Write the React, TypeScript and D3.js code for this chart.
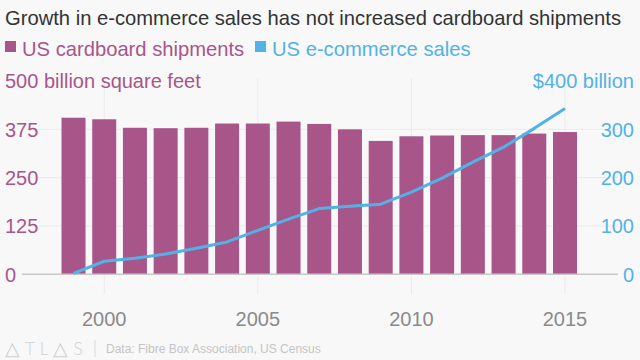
import { useEffect } from 'react'
import { scaleLinear, line } from 'd3'

const width = 640
const height = 360

const years = [1999, 2000, 2001, 2002, 2003, 2004, 2005, 2006, 2007, 2008, 2009, 2010, 2011, 2012, 2013, 2014, 2015]
const cardboard = [405, 401, 379, 378, 379, 390, 390, 395, 389, 375, 345, 357, 359, 360, 360, 364, 368]
const ecommerce = [2, 27, 33, 42, 54, 67, 91, 114, 136, 141, 145, 170, 199, 232, 263, 302, 343]
const leftTicks = [0, 125, 250, 375]
const rightTicks = [0, 100, 200, 300]
const yearTicks = [2000, 2005, 2010, 2015]

const pink = '#a8568a'
const blue = '#52b2e6'
const font = '"Liberation Sans", Arial, sans-serif'

const x = scaleLinear().domain([1999, 2015]).range([73.5, 565])
const yLeft = scaleLinear().domain([0, 500]).range([274.3, 81])
const yRight = scaleLinear().domain([0, 400]).range([274.3, 81])
const barWidth = 24

const salesLine = line<number>()
  .x((_, i) => x(years[i]))
  .y((d) => yRight(d))

function App() {
  useEffect(() => {
    document.body.style.margin = '0'
  }, [])

  return (
    <svg width={width} height={height} style={{ display: 'block', background: '#f8f8f8' }} fontFamily={font}>
      {/* grid */}
      {leftTicks.slice(1).map((t) => (
        <line key={t} x1={22} x2={618} y1={yLeft(t)} y2={yLeft(t)} stroke="#ebebeb" />
      ))}
      {yearTicks.map((t) => (
        <line key={t} x1={x(t)} x2={x(t)} y1={78} y2={294} stroke="#ebebeb" />
      ))}

      {/* bars */}
      {years.map((yr, i) => (
        <rect
          key={yr}
          x={x(yr) - barWidth / 2}
          y={yLeft(cardboard[i])}
          width={barWidth}
          height={yLeft(0) - yLeft(cardboard[i])}
          fill={pink}
        />
      ))}

      <line x1={22} x2={618} y1={yLeft(0)} y2={yLeft(0)} stroke="#c8c8c8" strokeWidth={1.5} />

      <path d={salesLine(ecommerce) ?? ''} fill="none" stroke={blue} strokeWidth={3} strokeLinejoin="round" />

      {/* axes labels */}
      {leftTicks.map((t) => (
        <text key={t} x={5} y={yLeft(t)} dy="0.36em" fontSize={20} fill={pink}>
          {t}
        </text>
      ))}
      {rightTicks.map((t) => (
        <text key={t} x={634} y={yRight(t)} dy="0.36em" fontSize={20} fill={blue} textAnchor="end">
          {t}
        </text>
      ))}
      {yearTicks.map((t) => (
        <text key={t} x={x(t)} y={326} fontSize={20} fill="#8a8a8a" textAnchor="middle">
          {t}
        </text>
      ))}
      <text x={5} y={yLeft(500)} dy="0.36em" fontSize={20} fill={pink}>
        500 billion square feet
      </text>
      <text x={634} y={yRight(400)} dy="0.36em" fontSize={20} fill={blue} textAnchor="end">
        $400 billion
      </text>

      {/* title + legend */}
      <text x={5} y={25} fontSize={20.2} fill="#333">
        Growth in e-commerce sales has not increased cardboard shipments
      </text>
      <rect x={5} y={41} width={11} height={11} fill={pink} />
      <text x={22} y={56} fontSize={20.2} fill={pink}>
        US cardboard shipments
      </text>
      <rect x={255} y={41} width={11} height={11} fill={blue} />
      <text x={272} y={56} fontSize={20.2} fill={blue}>
        US e-commerce sales
      </text>

      {/* footer */}
      <text x={5} y={355} fontSize={17} fill="#d0d0d0" letterSpacing={5} fontFamily="Lato, sans-serif" fontWeight={300}>
        <tspan fontSize={19}>△</tspan>TL<tspan fontSize={19}>△</tspan>S
      </text>
      <line x1={95} x2={95} y1={340} y2={357} stroke="#d8d8d8" />
      <text x={106} y={353} fontSize={12} fill="#c4c4c4">
        Data: Fibre Box Association, US Census
      </text>
    </svg>
  )
}

export default App
